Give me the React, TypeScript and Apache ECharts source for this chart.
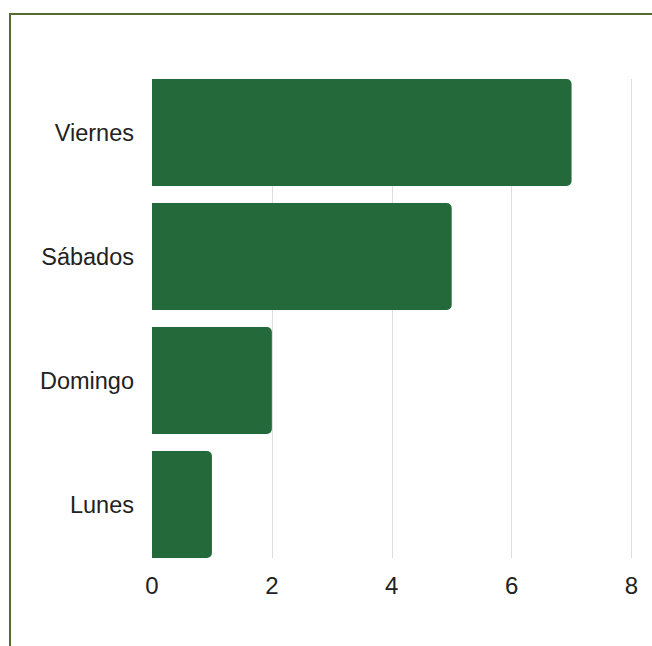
import React, { useEffect, useRef } from "react";
import * as echarts from "echarts";

const categories = ["Viernes", "Sábados", "Domingo", "Lunes"];
const values = [7, 5, 2, 1];
const axisMin = 0;
const axisMax = 8;
const axisInterval = 2;

export default function App() {
  const ref = useRef<HTMLDivElement>(null);
  useEffect(() => {
    if (!ref.current) return;
    const chart = echarts.init(ref.current, undefined, { renderer: "svg" });
    const font = "'Liberation Sans', Arial, sans-serif";
    chart.setOption({
      animation: false,
      grid: [
        { left: 152, right: 20.5, top: 70.5, bottom: 79.5 },
        { left: 152, right: 20.5, top: 79, bottom: 88 },
      ],
      xAxis: [
        {
          gridIndex: 0,
          type: "value",
          min: axisMin,
          max: axisMax,
          interval: axisInterval,
          show: false,
        },
        {
          gridIndex: 1,
          type: "value",
          min: axisMin,
          max: axisMax,
          interval: axisInterval,
          axisLine: { show: false },
          axisTick: { show: false },
          axisLabel: { fontSize: 24, color: "#222", fontFamily: font, margin: 15 },
          splitLine: { show: true, showMinLine: false, lineStyle: { color: "#dcdcdc", width: 1 } },
        },
      ],
      yAxis: [
        {
          gridIndex: 0,
          type: "category",
          data: categories,
          inverse: true,
          axisLine: { show: false },
          axisTick: { show: false },
          axisLabel: { fontSize: 23.5, color: "#222", fontFamily: font, margin: 18 },
        },
        {
          gridIndex: 1,
          type: "value",
          show: false,
        },
      ],
      series: [
        {
          type: "bar",
          xAxisIndex: 0,
          yAxisIndex: 0,
          data: values,
          barCategoryGap: "13.7%",
          itemStyle: { color: "#24693a", borderRadius: [0, 5, 5, 0] },
          z: 3,
        },
      ],
    });
    return () => chart.dispose();
  }, []);
  return (
    <div
      style={{
        position: "fixed",
        left: 0,
        top: 0,
        width: 652,
        height: 646,
        overflow: "hidden",
        background: "#fff",
      }}
    >
      <div
        style={{
          position: "absolute",
          left: 9,
          top: 13,
          width: 800,
          height: 800,
          border: "2px solid #566b30",
          boxSizing: "border-box",
        }}
      />
      <div ref={ref} style={{ position: "absolute", left: 0, top: 0, width: 652, height: 646 }} />
    </div>
  );
}
